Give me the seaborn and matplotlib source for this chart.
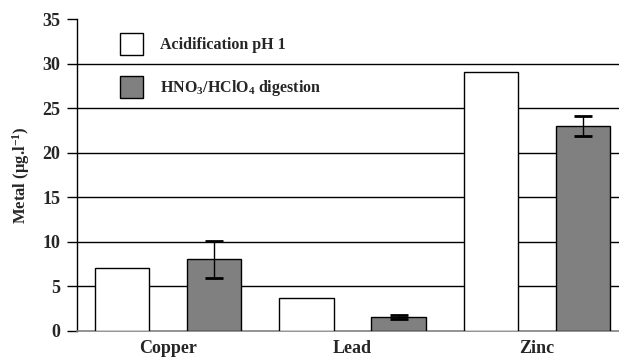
import pandas as pd
import numpy as np
import matplotlib
matplotlib.use("Agg")
import matplotlib.pyplot as plt
import seaborn as sns

# valeurs
metals = ["Copper", "Lead", "Zinc"]
acidification = [7.0, 3.7, 29.1]
digestion = [8.0, 1.55, 23.0]
digestion_err = [2.1, 0.25, 1.15]
methods = ["Acidification pH 1", "HNO$_{\\mathbf{3}}$/HClO$_{\\mathbf{4}}$ digestion"]
y_ticks = [0, 5, 10, 15, 20, 25, 30, 35]

sns.set_style("white")
plt.rcParams["font.family"] = ["Liberation Serif", "DejaVu Serif"]
plt.rcParams["font.weight"] = "bold"
plt.rcParams["mathtext.fontset"] = "custom"
plt.rcParams["mathtext.rm"] = "Liberation Serif:bold"
plt.rcParams["mathtext.bf"] = "Liberation Serif:bold"
plt.rcParams["mathtext.it"] = "Liberation Serif:bold"

df = pd.DataFrame({
    "metal": metals * 2,
    "value": acidification + digestion,
    "method": [methods[0]] * 3 + [methods[1]] * 3,
})

fig = plt.figure(figsize=(6.19, 3.6), dpi=100)
ax = fig.add_axes([0.124, 0.0814, 0.876, 0.8656])

sns.barplot(data=df, x="metal", y="value", hue="method", order=metals,
            hue_order=methods, palette=["white", "#808080"], width=1.0, gap=0.41,
            edgecolor="black", linewidth=1.0, errorbar=None, ax=ax, zorder=3)

# barres d'erreur sur les barres grises
gray_bars = ax.patches[3:6]
xs = [p.get_x() + p.get_width() / 2 for p in gray_bars]
ax.errorbar(xs, digestion, yerr=digestion_err, fmt="none", ecolor="black",
            elinewidth=1.0, capsize=6.5, capthick=2.0, zorder=4)

ax.set_ylim(0, 35)
ax.set_xlim(-0.495, 2.444)
ax.set_yticks(y_ticks)
ax.yaxis.grid(True, color="black", linewidth=1.0)
ax.set_axisbelow(True)
# pas de ligne de grille en haut ni en bas
ax.get_ygridlines()[-1].set_visible(False)
ax.get_ygridlines()[0].set_visible(False)

for s in ["top", "right"]:
    ax.spines[s].set_visible(False)
ax.spines["left"].set_color("black")
ax.spines["left"].set_linewidth(1.0)
ax.spines["bottom"].set_color("#808080")
ax.spines["bottom"].set_linewidth(1.2)

ax.tick_params(axis="y", direction="out", length=7, width=1, color="black",
               labelsize=13, pad=5, left=True)
ax.tick_params(axis="x", length=0, labelsize=13, pad=7)
for lab in ax.get_xticklabels() + ax.get_yticklabels():
    lab.set_fontweight("bold")

ax.set_xlabel("")
ax.set_ylabel("Metal (µg.l$^{\\mathbf{-1}}$)", fontsize=12, fontweight="bold", labelpad=7)

ax.legend(loc="upper left", bbox_to_anchor=(0.08, 0.956), frameon=False,
          handlelength=1.45, handleheight=1.75, handletextpad=1.05,
          labelspacing=1.3, borderpad=0, borderaxespad=0,
          prop={"weight": "bold", "size": 11.5})

fig.savefig("out.png", dpi=100)
